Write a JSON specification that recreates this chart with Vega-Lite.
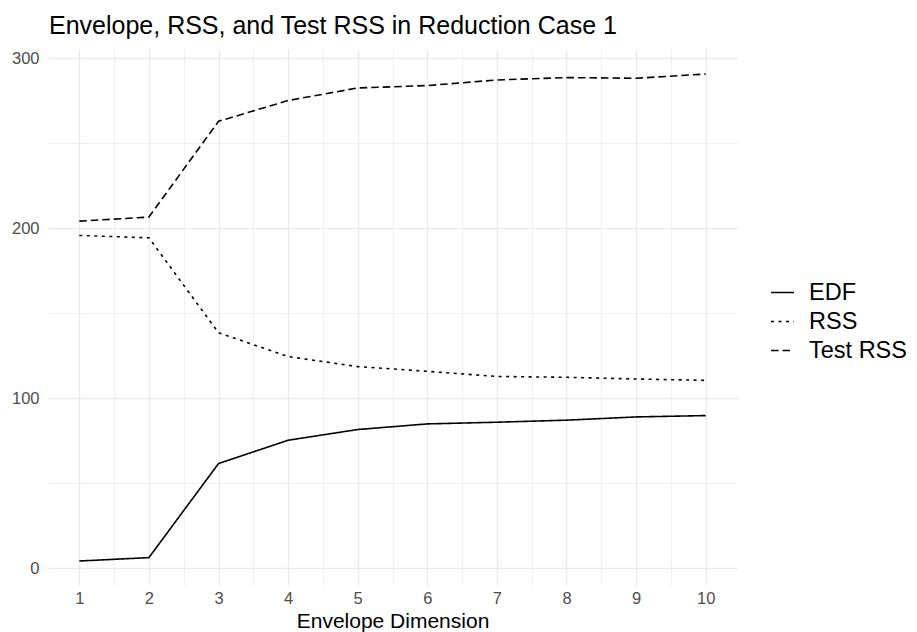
{
  "$schema": "https://vega.github.io/schema/vega-lite/v6.json",
  "width": 689,
  "height": 536,
  "autosize": {"type": "none"},
  "padding": {"left": 48, "top": 49, "right": 180, "bottom": 47},
  "background": "white",
  "title": {
    "text": "Envelope, RSS, and Test RSS in Reduction Case 1",
    "anchor": "start",
    "frame": "group",
    "font": "Liberation Sans",
    "fontSize": 25,
    "fontWeight": "normal",
    "color": "black",
    "offset": 10,
    "dx": 1
  },
  "config": {
    "view": {"stroke": null},
    "font": "Liberation Sans"
  },
  "data": {
    "values": [
      {"dim": 1, "series": "EDF", "value": 4.3},
      {"dim": 2, "series": "EDF", "value": 6.3},
      {"dim": 3, "series": "EDF", "value": 61.6},
      {"dim": 4, "series": "EDF", "value": 75.3},
      {"dim": 5, "series": "EDF", "value": 81.6},
      {"dim": 6, "series": "EDF", "value": 84.9},
      {"dim": 7, "series": "EDF", "value": 85.9},
      {"dim": 8, "series": "EDF", "value": 87.1},
      {"dim": 9, "series": "EDF", "value": 89.0},
      {"dim": 10, "series": "EDF", "value": 89.8},
      {"dim": 1, "series": "RSS", "value": 195.7},
      {"dim": 2, "series": "RSS", "value": 194.3},
      {"dim": 3, "series": "RSS", "value": 138.5},
      {"dim": 4, "series": "RSS", "value": 124.5},
      {"dim": 5, "series": "RSS", "value": 118.6},
      {"dim": 6, "series": "RSS", "value": 115.8},
      {"dim": 7, "series": "RSS", "value": 112.8},
      {"dim": 8, "series": "RSS", "value": 112.3},
      {"dim": 9, "series": "RSS", "value": 111.3},
      {"dim": 10, "series": "RSS", "value": 110.5},
      {"dim": 1, "series": "Test RSS", "value": 204.1},
      {"dim": 2, "series": "Test RSS", "value": 206.5},
      {"dim": 3, "series": "Test RSS", "value": 262.8},
      {"dim": 4, "series": "Test RSS", "value": 275.0},
      {"dim": 5, "series": "Test RSS", "value": 282.4},
      {"dim": 6, "series": "Test RSS", "value": 283.8},
      {"dim": 7, "series": "Test RSS", "value": 287.1},
      {"dim": 8, "series": "Test RSS", "value": 288.5},
      {"dim": 9, "series": "Test RSS", "value": 288.1},
      {"dim": 10, "series": "Test RSS", "value": 290.6}
    ]
  },
  "mark": {"type": "line", "color": "black", "strokeWidth": 1.6},
  "encoding": {
    "x": {
      "field": "dim",
      "type": "quantitative",
      "scale": {"domain": [0.55, 10.45], "nice": false, "zero": false},
      "axis": {
        "title": "Envelope Dimension",
        "titleFont": "Liberation Sans",
        "titleFontSize": 21,
        "titleFontWeight": "normal",
        "titleColor": "black",
        "titlePadding": 4,
        "values": [1, 1.5, 2, 2.5, 3, 3.5, 4, 4.5, 5, 5.5, 6, 6.5, 7, 7.5, 8, 8.5, 9, 9.5, 10],
        "labelExpr": "datum.value % 1 === 0 ? format(datum.value, 'd') : ''",
        "labelFontSize": 16.5,
        "labelColor": "#4d4d4d",
        "labelPadding": 5,
        "labelFlush": false,
        "ticks": false,
        "domain": false,
        "grid": true,
        "gridColor": "#ebebeb",
        "gridWidth": {"condition": {"test": "datum.value % 1 !== 0", "value": 0.7}, "value": 1.4}
      }
    },
    "y": {
      "field": "value",
      "type": "quantitative",
      "scale": {"domain": [-9.8, 305.3], "nice": false, "zero": false},
      "axis": {
        "title": null,
        "values": [0, 50, 100, 150, 200, 250, 300],
        "labelExpr": "datum.value % 100 === 0 ? format(datum.value, 'd') : ''",
        "labelFontSize": 16.5,
        "labelColor": "#4d4d4d",
        "labelPadding": 9,
        "ticks": false,
        "domain": false,
        "grid": true,
        "gridColor": "#ebebeb",
        "gridWidth": {"condition": {"test": "datum.value % 100 !== 0", "value": 0.7}, "value": 1.4}
      }
    },
    "strokeDash": {
      "field": "series",
      "type": "nominal",
      "scale": {
        "domain": ["EDF", "RSS", "Test RSS"],
        "range": [[1, 0], [3, 4.5], [7.5, 4]]
      },
      "legend": {
        "title": null,
        "orient": "none",
        "legendX": 722,
        "legendY": 231,
        "symbolType": "stroke",
        "symbolSize": 529,
        "symbolStrokeWidth": 1.6,
        "symbolStrokeColor": "black",
        "labelFontSize": 23.5,
        "labelColor": "black",
        "labelOffset": 14,
        "rowPadding": 5
      }
    }
  }
}
